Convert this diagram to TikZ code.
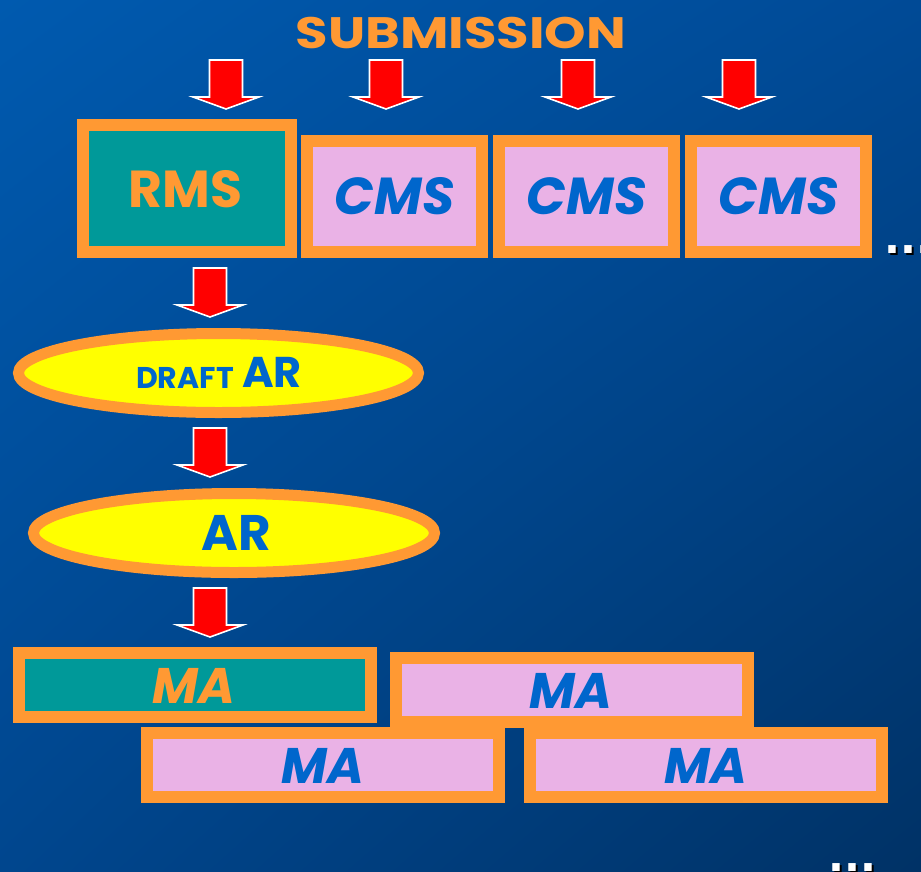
\documentclass[tikz,border=0pt]{standalone}
\usepackage{fontspec}
\setmainfont{Poppins}
\newfontfamily\dotfont{DejaVu Sans}
\usetikzlibrary{shapes.geometric,shadings}

\definecolor{bgTL}{RGB}{0,90,175}
\definecolor{bgTR}{RGB}{0,74,150}
\definecolor{bgBL}{RGB}{0,70,142}
\definecolor{bgBR}{RGB}{0,50,102}
\definecolor{frameorange}{RGB}{255,153,51}
\definecolor{tealfill}{RGB}{0,153,153}
\definecolor{pinkfill}{RGB}{234,178,230}
\definecolor{textblue}{RGB}{0,102,204}
\definecolor{ellyellow}{RGB}{255,255,0}
\definecolor{arrowred}{RGB}{255,0,0}

\tikzset{
  framebox/.style={draw=frameorange, line width=12pt, rectangle, inner sep=0pt, outer sep=0pt},
  leadbox/.style={framebox, fill=tealfill},
  plainbox/.style={framebox, fill=pinkfill},
  oval/.style={ellipse, draw=frameorange, fill=ellyellow, line width=11pt, inner sep=0pt},
  lbl/.style={anchor=base, inner sep=0pt, font=\bfseries},
  orangelbl/.style={lbl, text=frameorange},
  bluelbl/.style={lbl, text=textblue},
  dots/.style={anchor=base west, inner sep=0pt, font=\dotfont\bfseries\fontsize{42}{42}\selectfont},
  downarrow/.pic={
    \draw[white, line width=1.6pt, fill=arrowred, line join=miter]
      (-16.5,0) -- (16.5,0) -- (16.5,37) -- (33,37) -- (0,49)
      -- (-33,37) -- (-16.5,37) -- cycle;
  }
}

\begin{document}
\begin{tikzpicture}[x=1pt, y=-1pt]
\useasboundingbox (0,0) rectangle (921,871);
\clip (0,0) rectangle (921,871);

% background
\shade[upper left=bgTL, upper right=bgTR, lower left=bgBL, lower right=bgBR]
  (0,0) rectangle (921,871);

% title
\node[orangelbl, font=\bfseries\fontsize{44}{44}\selectfont] (sub) at (461,48) {\scalebox{1.2}[1]{SUBMISSION}};

% submission arrows
\pic at (226,60) {downarrow};
\pic at (386,60) {downarrow};
\pic at (578,60) {downarrow};
\pic at (739,60) {downarrow};

% committee boxes
\node[leadbox, minimum width=208pt, minimum height=127pt] (rms) at (187,188.5) {};
\node[plainbox, minimum width=175pt, minimum height=111pt] (cms1) at (394.5,196.5) {};
\node[plainbox, minimum width=175pt, minimum height=111pt] (cms2) at (586.5,196.5) {};
\node[plainbox, minimum width=175pt, minimum height=111pt] (cms3) at (778.5,196.5) {};

\node[orangelbl, font=\bfseries\fontsize{52}{52}\selectfont] (rmst) at (185.5,207) {RMS};
\node[bluelbl, font=\bfseries\itshape\fontsize{52}{52}\selectfont] (cms1t) at (394.5,214) {CMS};
\node[bluelbl, font=\bfseries\itshape\fontsize{52}{52}\selectfont] (cms2t) at (586.5,214) {CMS};
\node[bluelbl, font=\bfseries\itshape\fontsize{52}{52}\selectfont] (cms3t) at (778.5,214) {CMS};

% trailing dots after the CMS row
\node[dots, text=black] at (886,255) {...};
\node[dots, text=white] (moredms) at (884,253) {...};

% assessment report path
\pic at (210,268) {downarrow};
\node[oval, minimum width=400pt, minimum height=79pt] (draft) at (218.5,373) {};
\node[bluelbl, font=\bfseries\fontsize{30}{30}\selectfont, anchor=base east] (draftt) at (234,388) {DRAFT};
\node[bluelbl, font=\bfseries\fontsize{43}{43}\selectfont, anchor=base west] (draftar) at (242,387) {AR};

\pic at (210,428) {downarrow};
\node[oval, minimum width=401pt, minimum height=79pt] (ar) at (234,533) {};
\node[bluelbl, font=\bfseries\fontsize{50}{50}\selectfont] (art) at (236,550) {AR};

\pic at (210,588) {downarrow};

% marketing authorisations
\node[leadbox, minimum width=352pt, minimum height=64pt] (ma1) at (195,685) {};
\node[plainbox, minimum width=352pt, minimum height=64pt] (ma2) at (572,690) {};
\node[plainbox, minimum width=352pt, minimum height=64pt] (ma3) at (323,765) {};
\node[plainbox, minimum width=352pt, minimum height=64pt] (ma4) at (706,765) {};

\node[orangelbl, font=\bfseries\itshape\fontsize{50}{50}\selectfont] (ma1t) at (193.5,703) {MA};
\node[bluelbl, font=\bfseries\itshape\fontsize{50}{50}\selectfont] (ma2t) at (570.5,708) {MA};
\node[bluelbl, font=\bfseries\itshape\fontsize{50}{50}\selectfont] (ma3t) at (322.5,783) {MA};
\node[bluelbl, font=\bfseries\itshape\fontsize{50}{50}\selectfont] (ma4t) at (705.5,783) {MA};

% trailing dots at the bottom
\node[dots, text=black] at (830,873) {...};
\node[dots, text=white] (morema) at (828,871) {...};
\end{tikzpicture}
\end{document}
